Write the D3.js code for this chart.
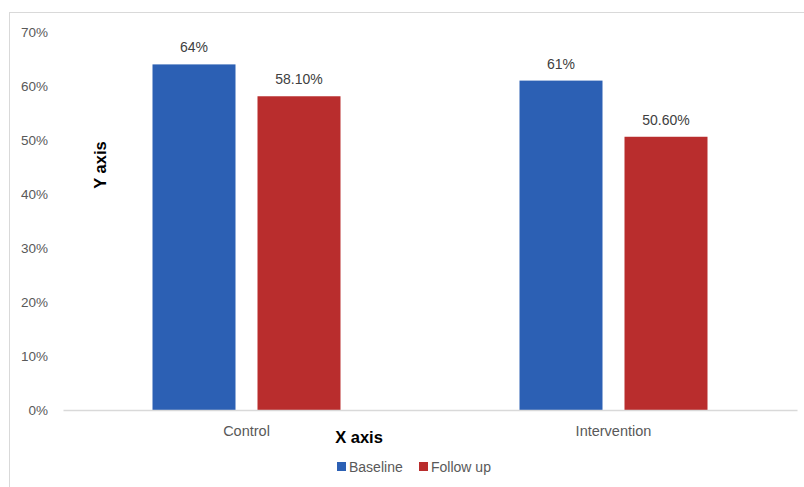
<!DOCTYPE html>
<html><head><meta charset="utf-8">
<script src="https://cdn.jsdelivr.net/npm/d3@7"></script>
<style>body{margin:0;background:#fff}svg{display:block}</style>
</head><body><svg id="c" width="804" height="487"></svg>
<script>
const categories = ["Control", "Intervention"];
const seriesNames = ["Baseline", "Follow up"];
const baseline = [64, 61];
const followUp = [58.1, 50.6];
const valueLabels = [["64%", "61%"], ["58.10%", "50.60%"]];
const yTicks = [0, 10, 20, 30, 40, 50, 60, 70];
const colors = ["#2C60B4", "#B92D2D"];

(function () {
const svg = d3.select("#c");
const font = "'Liberation Sans', Arial, sans-serif";
const pLeft = 63, pRight = 797, pTop = 32, pBottom = 410;

// chart border
svg.append("rect").attr("x", 9.5).attr("y", 12.5).attr("width", 820).attr("height", 500)
  .attr("fill", "none").attr("stroke", "#D9D9D9");

const y = d3.scaleLinear().domain([0, 70]).range([pBottom, pTop]);
const x0 = d3.scaleBand().domain(categories).range([pLeft, pRight]).paddingInner(0).paddingOuter(0);
const x1 = d3.scaleBand().domain(seriesNames).range([0, 188]).paddingInner(0.2095).paddingOuter(0);

const yAxis = d3.axisLeft(y).tickValues(yTicks).tickFormat(d => d + "%").tickSize(0).tickPadding(0);
const gy = svg.append("g").attr("transform", `translate(48,0)`).call(yAxis);
gy.select(".domain").remove();
gy.selectAll("text").attr("font-family", font).attr("font-size", 13.5).attr("fill", "#595959");

const series = [baseline, followUp];
categories.forEach((cat, ci) => {
  const gx = x0(cat) + x0.bandwidth() / 2 - 94;
  seriesNames.forEach((s, si) => {
    const v = series[si][ci];
    svg.append("rect")
      .attr("x", gx + x1(s)).attr("y", y(v))
      .attr("width", x1.bandwidth()).attr("height", y(0) - y(v))
      .attr("fill", colors[si]);
    svg.append("text")
      .attr("x", gx + x1(s) + x1.bandwidth() / 2).attr("y", y(v) - 12)
      .attr("text-anchor", "middle").attr("font-family", font).attr("font-size", 14)
      .attr("fill", "#404040").text(valueLabels[si][ci]);
  });
});

// baseline axis
const xAxis = d3.axisBottom(x0).tickSize(0).tickPadding(16);
const gx = svg.append("g").attr("transform", `translate(0,${pBottom})`).call(xAxis);
gx.select(".domain").attr("stroke", "#D9D9D9").attr("stroke-width", 1.5);
gx.selectAll("text").attr("font-family", font).attr("font-size", 14.5).attr("fill", "#595959");

// axis titles
svg.append("text").attr("x", 359).attr("y", 443).attr("text-anchor", "middle")
  .attr("font-family", font).attr("font-size", 16.5).attr("font-weight", "bold").attr("fill", "#000").text("X axis");
svg.append("text").attr("transform", "translate(106,165) rotate(-90)").attr("text-anchor", "middle")
  .attr("font-family", font).attr("font-size", 16.5).attr("font-weight", "bold").attr("fill", "#000").text("Y axis");

// legend
const legendX = [337, 419];
seriesNames.forEach((s, i) => {
  svg.append("rect").attr("x", legendX[i]).attr("y", 462).attr("width", 9).attr("height", 9).attr("fill", colors[i]);
  svg.append("text").attr("x", legendX[i] + 12).attr("y", 472).attr("font-family", font).attr("font-size", 14)
    .attr("fill", "#595959").text(s);
});
})();
</script></body></html>
